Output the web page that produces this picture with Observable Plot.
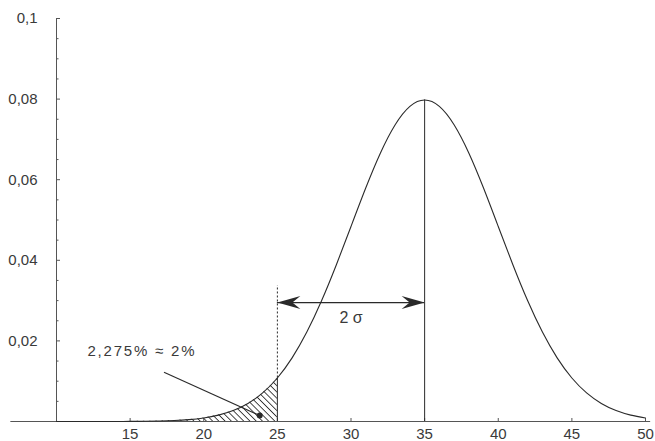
<!DOCTYPE html>
<html>
<head>
<meta charset="utf-8">
<script src="https://cdn.jsdelivr.net/npm/d3@7"></script>
<script src="https://cdn.jsdelivr.net/npm/@observablehq/plot@0.6"></script>
<style>
  html, body { margin: 0; padding: 0; background: #fff; }
</style>
</head>
<body>
<div id="chart"></div>
<script>
// Curve values (x = 10 … 50)
const xValues = [10,11,12,13,14,15,16,17,18,19,20,21,22,23,24,25,26,27,28,29,30,
                 31,32,33,34,35,36,37,38,39,40,41,42,43,44,45,46,47,48,49,50];
const density = [0.0000003,0.0000008,0.000002,0.000005,0.0000118,0.0000268,0.000058,0.000122,0.000246,0.000477,
                 0.000886,0.001583,0.002717,0.004479,0.007095,0.010798,0.015790,0.022184,0.029945,0.038837,
                 0.048394,0.057938,0.066645,0.073654,0.078209,0.079788,0.078209,0.073654,0.066645,0.057938,
                 0.048394,0.038837,0.029945,0.022184,0.015790,0.010798,0.007095,0.004479,0.002717,0.001583,0.000886];

// Tick values and labels
const xTicks = [15,20,25,30,35,40,45,50];
const yTicks = [0.02,0.04,0.06,0.08,0.1];
const yMinorTicks = [0.005,0.01,0.015,0.025,0.03,0.035,0.045,0.05,0.055,0.065,0.07,0.075,0.085,0.09,0.095];
const yTickLabels = ["0,02","0,04","0,06","0,08","0,1"];

// Annotation values
const meanX = [35];
const cutX = [25];
const dashTop = [0.0337];
const arrowY = [0.0295];
const sigmaLabel = ["2 σ"];
const sigmaLabelPos = [30, 0.0258];
const tailLabel = ["2,275% ≈ 2%"];
const tailLabelPos = [12.1, 0.0174];
const leaderStart = [17.3, 0.0122];
const leaderEnd = [23.8, 0.0015];
const axisExtent = [6.9, 50.35];

const curve = xValues.map((x, i) => ({x, y: density[i]}));
const tail = curve.filter(d => d.x <= cutX[0]);
const cutY = density[xValues.indexOf(cutX[0])];
const peakY = density[xValues.indexOf(meanX[0])];

const ink = "#2a2a2a";
const axisInk = "#555";
const textInk = "#3a3a3a";

const headLeft = { draw(ctx) { ctx.moveTo(0,0); ctx.lineTo(23,-6.5); ctx.lineTo(15,0); ctx.lineTo(23,6.5); ctx.closePath(); } };
const headRight = { draw(ctx) { ctx.moveTo(0,0); ctx.lineTo(-23,-6.5); ctx.lineTo(-15,0); ctx.lineTo(-23,6.5); ctx.closePath(); } };

const chart = Plot.plot({
  width: 655,
  height: 441,
  marginLeft: 56,
  marginRight: 10,
  marginTop: 18,
  marginBottom: 20,
  style: {fontFamily: "'Liberation Sans', Arial, Helvetica, sans-serif", fontSize: "15px", color: textInk, background: "#fff"},
  x: {domain: [10, 50]},
  y: {domain: [0, 0.1]},
  marks: [
    // hatched tail
    Plot.areaY(tail, {x: "x", y: "y", curve: "natural", fill: "url(#hatch)"}),
    // axes lines
    Plot.ruleY([0], {x1: axisExtent[0], x2: axisExtent[1], stroke: axisInk, strokeWidth: 1}),
    Plot.ruleX([10], {y1: 0, y2: 0.1, stroke: axisInk, strokeWidth: 1}),
    // axes ticks & labels
    Plot.axisY({ticks: yTicks, tickSize: -4, stroke: axisInk, fill: "none", label: null}),
    Plot.axisY({ticks: yMinorTicks, tickSize: -2.5, stroke: axisInk, fill: "none", label: null}),
    Plot.axisY({ticks: yTicks, tickSize: 0, tickPadding: 19, tickFormat: (d) => yTickLabels[yTicks.indexOf(d)], label: null, fill: textInk}),
    Plot.axisX({ticks: xTicks, tickSize: -3, stroke: axisInk, fill: "none", label: null}),
    Plot.axisX({ticks: xTicks, tickSize: 0, tickPadding: 7, label: null, fill: textInk}),
    // vertical lines
    Plot.ruleX(cutX, {y1: 0, y2: cutY, stroke: ink, strokeWidth: 1}),
    Plot.ruleX(cutX, {y1: cutY, y2: dashTop[0], stroke: ink, strokeWidth: 1, strokeDasharray: "2,2"}),
    Plot.ruleX(meanX, {y1: 0, y2: peakY, stroke: ink, strokeWidth: 1}),
    // curve
    Plot.line(curve, {x: "x", y: "y", curve: "natural", stroke: ink, strokeWidth: 1.1}),
    // 2 sigma arrow
    Plot.ruleY(arrowY, {x1: cutX[0], x2: meanX[0], stroke: ink, strokeWidth: 1.3}),
    Plot.dot(arrowY, {x: cutX[0], y: d => d, symbol: headLeft, fill: ink, stroke: "none"}),
    Plot.dot(arrowY, {x: meanX[0], y: d => d, symbol: headRight, fill: ink, stroke: "none"}),
    Plot.text(sigmaLabel, {x: sigmaLabelPos[0], y: sigmaLabelPos[1], text: d => d, fontSize: 16, fill: textInk}),
    // tail annotation
    Plot.text(tailLabel, {x: tailLabelPos[0], y: tailLabelPos[1], text: d => d, textAnchor: "start", fontSize: 15, fill: textInk}),
    Plot.link([0], {x1: leaderStart[0], y1: leaderStart[1], x2: leaderEnd[0], y2: leaderEnd[1], stroke: ink, strokeWidth: 1.1}),
    Plot.dot([0], {x: leaderEnd[0], y: leaderEnd[1], r: 3, fill: ink, stroke: "none"})
  ]
});

const svg = d3.select(chart.tagName.toLowerCase() === "svg" ? chart : chart.querySelector("svg"));

// wider tracking for the tail annotation, as in the reference
svg.selectAll("text").filter(function() { return this.textContent === tailLabel[0]; })
  .attr("letter-spacing", "1.8px");

// hatch pattern definition
const pattern = svg.insert("defs", ":first-child")
  .append("pattern")
  .attr("id", "hatch")
  .attr("patternUnits", "userSpaceOnUse")
  .attr("width", 4.4)
  .attr("height", 4.4)
  .attr("patternTransform", "rotate(45)");
pattern.append("line")
  .attr("x1", 0).attr("y1", 2.2).attr("x2", 4.4).attr("y2", 2.2)
  .attr("stroke", "#333").attr("stroke-width", 0.9);

document.getElementById("chart").appendChild(chart);
</script>
</body>
</html>
